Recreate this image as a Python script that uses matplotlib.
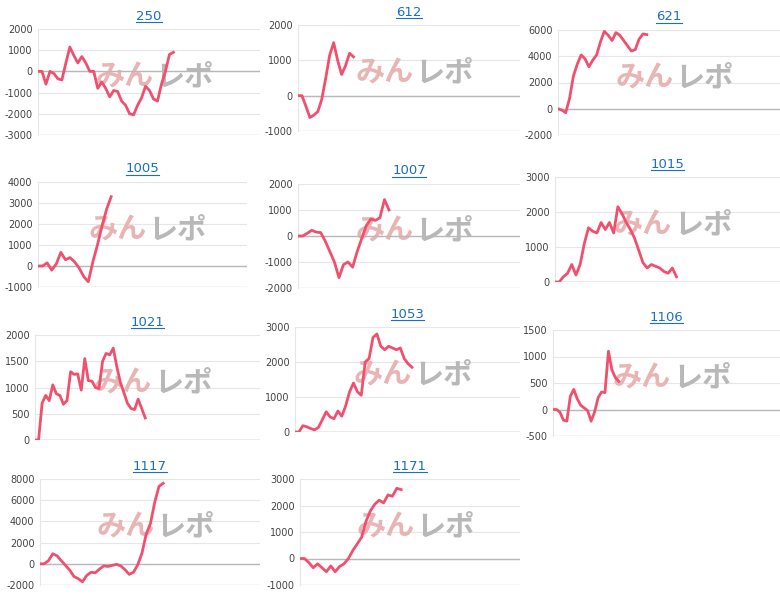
import matplotlib
matplotlib.use("Agg")
from matplotlib import pyplot as plt
from matplotlib.lines import Line2D

plt.rcParams['font.family'] = ['DejaVu Sans']

titles = ["250", "612", "621", "1005", "1007", "1015", "1021", "1053", "1106", "1117", "1171"]

s250 = [0, 0, -600, 0, -100, -350, -400, 400, 1150, 750, 400, 700, 400, 0, 0, -800, -500, -800,
        -1200, -900, -950, -1400, -1600, -2000, -2050, -1600, -1250, -700, -900, -1300, -1400,
        -600, 0, 800, 900]
s612 = [0, 0, -300, -620, -550, -450, -100, 500, 1150, 1500, 1000, 600, 850, 1200, 1100]
s621 = [0, -100, -300, 800, 2500, 3400, 4100, 3800, 3200, 3700, 4100, 5100, 5900, 5600, 5200,
        5800, 5600, 5200, 4800, 4400, 4500, 5300, 5700, 5650]
s1005 = [0, 0, 150, -200, 100, 650, 300, 400, 200, -100, -500, -750, 200, 1000, 1900, 2700, 3300]
s1007 = [0, 0, 100, 220, 150, 130, -200, -600, -1000, -1600, -1100, -1000, -1200, -600, -100,
         400, 650, 600, 700, 1400, 1000]
s1015 = [0, 0, 150, 250, 500, 200, 500, 1100, 1550, 1450, 1400, 1700, 1500, 1700, 1400, 2150,
         1950, 1700, 1500, 1250, 900, 550, 400, 500, 450, 400, 300, 250, 400, 150]
s1021 = [0, 0, 700, 850, 750, 1050, 880, 850, 680, 750, 1300, 1250, 1260, 950, 1550, 1130, 1120,
         1000, 980, 1500, 1650, 1620, 1750, 1400, 1100, 900, 700, 600, 580, 780, 600, 420]
s1053 = [0, 0, 180, 150, 100, 60, 130, 350, 580, 430, 380, 600, 450, 750, 1150, 1400, 1150, 1050,
         2000, 2100, 2700, 2800, 2450, 2350, 2450, 2400, 2350, 2400, 2100, 1950, 1850]
s1106 = [0, 0, -50, -200, -220, 250, 380, 200, 80, 30, -20, -220, -50, 220, 330, 320, 1100, 750,
         600, 530]
s1117 = [0, 0, 300, 950, 750, 300, -150, -600, -1200, -1400, -1700, -1100, -800, -850, -500, -200,
         -250, -150, -50, -200, -550, -1000, -800, -100, 1000, 2800, 3800, 5800, 7300, 7600]
s1171 = [0, 0, -150, -350, -200, -350, -500, -280, -500, -300, -200, 0, 300, 550, 800, 1400, 1800,
         2050, 2200, 2100, 2400, 2350, 2650, 2600]

series = [s250, s612, s621, s1005, s1007, s1015, s1021, s1053, s1106, s1117, s1171]
yticks = [
    [-3000, -2000, -1000, 0, 1000, 2000],
    [-1000, 0, 1000, 2000],
    [-2000, 0, 2000, 4000, 6000],
    [-1000, 0, 1000, 2000, 3000, 4000],
    [-2000, -1000, 0, 1000, 2000],
    [0, 1000, 2000, 3000],
    [0, 500, 1000, 1500, 2000],
    [0, 1000, 2000, 3000],
    [-500, 0, 500, 1000, 1500],
    [-2000, 0, 2000, 4000, 6000, 8000],
    [-1000, 0, 1000, 2000, 3000],
]
# fraction of the plot width covered by each line
fracs = [0.61, 0.25, 0.40, 0.35, 0.41, 0.54, 0.49, 0.52, 0.29, 0.56, 0.46]
# plot area boxes in pixels: left, top, right, bottom
boxes = [
    (38, 29, 260, 135), (298, 25, 520, 131), (558, 30, 780, 135),
    (38, 182, 247, 287), (298, 184, 520, 288), (555, 177, 780, 282),
    (35, 335, 260, 440), (295, 327, 520, 432), (553, 330, 780, 436),
    (40, 479, 260, 585), (300, 479, 520, 585),
]

W, H = 780, 605
fig = plt.figure(figsize=(W / 100, H / 100), dpi=100)
line_color = "#f0506e"
title_color = "#1a6fc4"

title_texts = []
for name, vals, ticks, frac, (l, t, r, b) in zip(titles, series, yticks, fracs, boxes):
    ax = fig.add_axes([l / W, 1 - b / H, (r - l) / W, (b - t) / H])
    n = len(vals)
    ax.plot(range(n), vals, color=line_color, lw=2, zorder=3)
    ax.set_xlim(0, (n - 1) / frac)
    ax.set_ylim(ticks[0], ticks[-1])
    ax.set_yticks(ticks)
    ax.set_yticklabels([str(v) for v in ticks], color="#444444", fontsize=7)
    ax.set_xticks([])
    ax.tick_params(axis="y", length=0, pad=4)
    ax.grid(axis="y", color="#e6e6e6", lw=0.8)
    for side in ["top", "right", "bottom"]:
        ax.spines[side].set_visible(False)
    ax.spines["left"].set_color("#e6e6e6")
    ax.axhline(0, color="#b8b8b8", lw=1, zorder=2)
    ax.axhline(ticks[0], color="#dddddd", lw=1, zorder=2)
    ax.set_axisbelow(True)
    # watermark
    ax.text(0.52, 0.55, "みん", transform=ax.transAxes, color="#e8b4b4", fontsize=21,
            fontweight="bold", family=["Noto Sans CJK JP"], ha="right", va="center", zorder=1)
    ax.text(0.53, 0.55, "レポ", transform=ax.transAxes, color="#b8b8b8", fontsize=21,
            fontweight="bold", family=["Noto Sans CJK JP"], ha="left", va="center", zorder=1)
    tt = fig.text((l + r) / 2 / W, 1 - (t - 13) / H, name, color=title_color, fontsize=9.5,
                  ha="center", va="center")
    title_texts.append(tt)

fig.canvas.draw()
renderer = fig.canvas.get_renderer()
for tt in title_texts:
    bb = tt.get_window_extent(renderer).transformed(fig.transFigure.inverted())
    fig.add_artist(Line2D([bb.x0, bb.x1], [bb.y0 + 0.001, bb.y0 + 0.001],
                          transform=fig.transFigure, color=title_color, lw=0.8))

fig.savefig("out.png", dpi=100)
